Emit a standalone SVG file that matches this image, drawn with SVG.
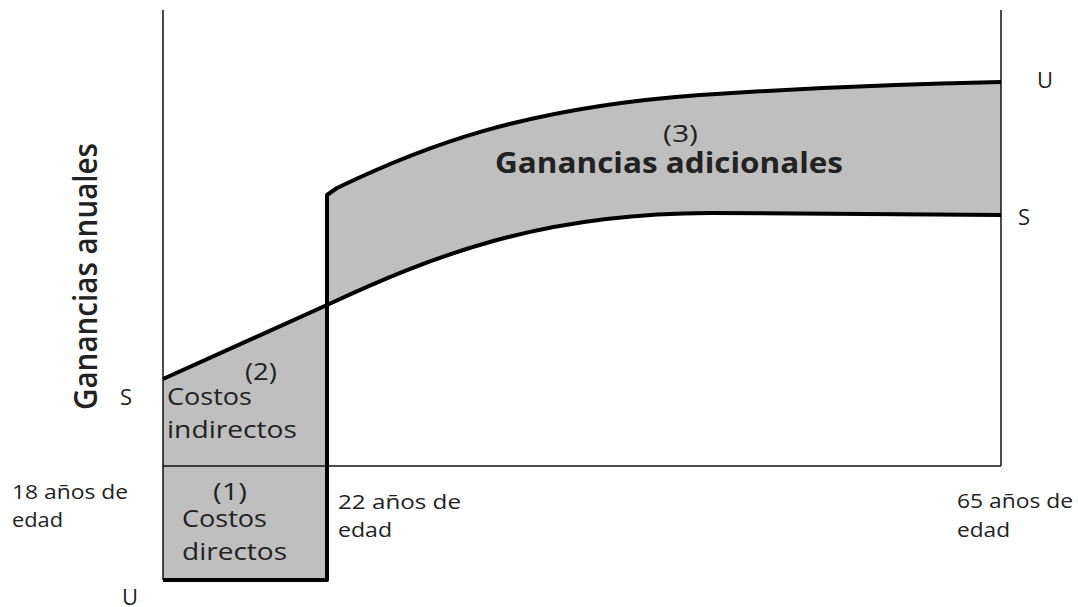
<svg xmlns="http://www.w3.org/2000/svg" width="1078" height="607" viewBox="0 0 1078 607">
<style>
  text { font-family: "Open Sans", "DejaVu Sans", sans-serif; fill: #222; }
  .lbl { font-size: 24px; }
  .age { font-size: 20px; }
  .ltr { font-size: 22px; }
  .thin { stroke: #111; stroke-width: 1.5; fill: none; }
  .thick { stroke: #000; stroke-width: 4; fill: none; stroke-linejoin: round; }
  .area { fill: #bfbfbf; stroke: none; }
</style>
<rect width="1078" height="607" fill="#ffffff"/>
<g id="areas">
  <path id="area1" class="area" d="M163,466 L327,466 L327,580 L163,580 Z"/>
  <path id="area2" class="area" d="M163,379 L327,305 L327,466 L163,466 Z"/>
  <path id="area3" class="area" d="M327,305 C430,257 540,213 710,213 L1001,215 L1001,82 Q850,85 700,95 C520,108 420,148 337,188 L327,195 Z"/>
</g>
<g id="axes">
  <line class="thin" x1="163" y1="10" x2="163" y2="580"/>
  <line class="thin" x1="1001" y1="10" x2="1001" y2="466"/>
  <line class="thin" x1="163" y1="466" x2="1001" y2="466"/>
</g>
<g id="connectors">
  <path id="curveS" class="thick" d="M163,379 L327,305 C430,257 540,213 710,213 L1001,215"/>
  <path id="curveU" class="thick" d="M163,580 L327,580 L327,195 L337,188 C420,148 520,108 700,95 Q850,85 1001,82"/>
</g>
<g id="node-3">
  <text x="663" y="142" font-size="23" textLength="35" lengthAdjust="spacingAndGlyphs">(3)</text>
  <text x="495" y="173" font-size="28" font-weight="bold" textLength="348" lengthAdjust="spacingAndGlyphs">Ganancias adicionales</text>
</g>
<g id="node-2">
  <text class="lbl" x="245" y="380" textLength="32" lengthAdjust="spacingAndGlyphs">(2)</text>
  <text class="lbl" x="167" y="405" textLength="85" lengthAdjust="spacingAndGlyphs">Costos</text>
  <text class="lbl" x="167" y="438" textLength="130" lengthAdjust="spacingAndGlyphs">indirectos</text>
</g>
<g id="node-1">
  <text class="lbl" x="213" y="500" textLength="34" lengthAdjust="spacingAndGlyphs">(1)</text>
  <text class="lbl" x="182" y="527" textLength="85" lengthAdjust="spacingAndGlyphs">Costos</text>
  <text class="lbl" x="182" y="560" textLength="105" lengthAdjust="spacingAndGlyphs">directos</text>
</g>
<g id="age-18">
  <text class="age" x="12" y="499" textLength="116" lengthAdjust="spacingAndGlyphs">18 años de</text>
  <text class="age" x="12" y="527" textLength="51" lengthAdjust="spacingAndGlyphs">edad</text>
</g>
<g id="age-22">
  <text class="age" x="338" y="509" textLength="123" lengthAdjust="spacingAndGlyphs">22 años de</text>
  <text class="age" x="338" y="537" textLength="54" lengthAdjust="spacingAndGlyphs">edad</text>
</g>
<g id="age-65">
  <text class="age" x="957" y="508" textLength="116" lengthAdjust="spacingAndGlyphs">65 años de</text>
  <text class="age" x="957" y="537" textLength="53" lengthAdjust="spacingAndGlyphs">edad</text>
</g>
<g id="curve-labels">
  <text class="ltr" x="120" y="405">S</text>
  <text class="ltr" x="122" y="605">U</text>
  <text class="ltr" x="1037" y="88">U</text>
  <text class="ltr" x="1018" y="225">S</text>
</g>
<g id="y-axis-label">
  <text transform="translate(97,410) scale(1.15,1) rotate(-90)" x="0" y="0" font-size="28" font-weight="600" textLength="267" lengthAdjust="spacingAndGlyphs">Ganancias anuales</text>
</g>
</svg>
